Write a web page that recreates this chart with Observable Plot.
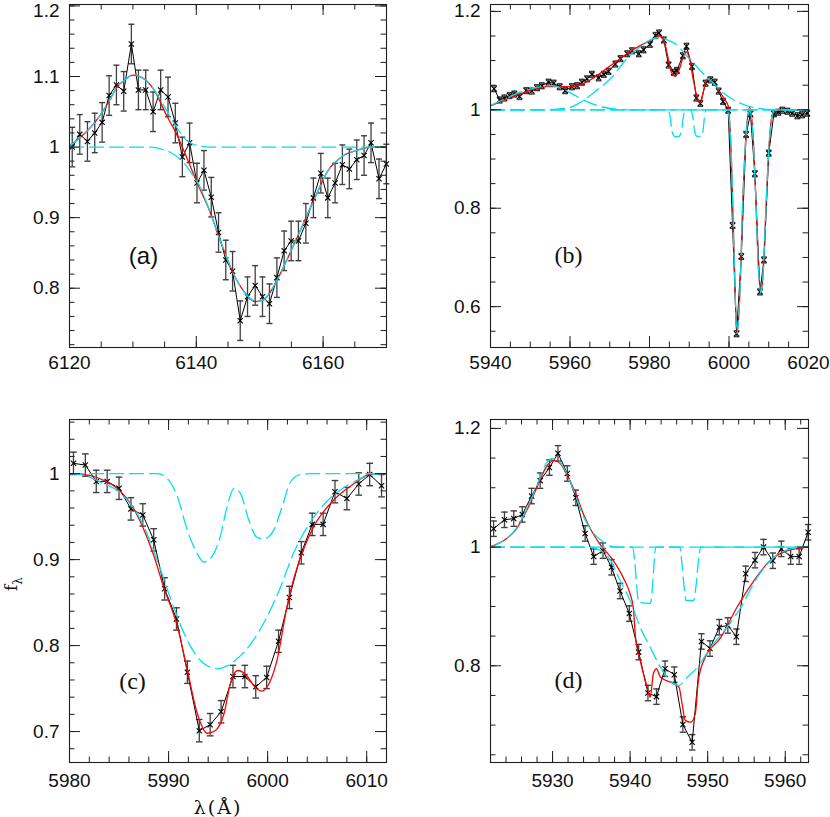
<!DOCTYPE html>
<html><head><meta charset="utf-8">
<script src="https://cdn.jsdelivr.net/npm/d3@7"></script>
<script src="https://cdn.jsdelivr.net/npm/@observablehq/plot@0.6"></script>
<style>
body{margin:0;background:#fff;}
#chart{position:relative;width:830px;height:817px;background:#fff;overflow:hidden;}
#chart svg{position:absolute;}
.lbl{position:absolute;font-family:"DejaVu Serif","Liberation Serif",serif;color:#111;white-space:nowrap;}
</style></head><body>
<div id="chart"></div>
<script>
// ---------- Panel (a) ----------
const aWave = [6120.43,6121.62,6122.83,6123.98,6125.15,6126.25,6127.40,6128.55,6129.76,6130.87,6132.02,6133.18,6134.38,6135.54,6136.69,6137.80,6138.94,6140.11,6141.21,6142.36,6143.51,6144.65,6145.72,6146.93,6148.08,6149.29,6150.44,6151.54,6152.71,6153.86,6154.96,6156.11,6157.28,6158.47,6159.64,6160.74,6161.89,6163.04,6164.14,6165.31,6166.46,6167.56,6168.82,6169.98];
const aFlux = [1.000,1.018,1.008,1.020,1.035,1.073,1.088,1.079,1.146,1.081,1.081,1.050,1.081,1.071,1.034,0.986,1.006,0.949,0.967,0.929,0.879,0.840,0.824,0.754,0.788,0.804,0.788,0.778,0.815,0.853,0.867,0.867,0.892,0.928,0.963,0.928,0.949,0.975,0.969,0.982,0.988,1.006,0.955,0.976];
const aErr = 0.028;
const aFit = [[6120,1.002],[6121.6,1.013],[6124,1.035],[6126.3,1.066],[6127.4,1.084],[6128.7,1.095],[6130,1.102],[6132,1.095],[6133.4,1.080],[6135.3,1.045],[6136.9,1.018],[6138.5,0.985],[6140,0.952],[6142,0.912],[6144,0.862],[6146,0.818],[6148,0.790],[6149.3,0.781],[6150.5,0.783],[6151.7,0.795],[6152.7,0.811],[6155.1,0.856],[6158.5,0.924],[6160.8,0.967],[6162.9,0.986],[6165.6,0.996],[6167.7,1.0],[6170,1.0]];
const aEmission = [[6120,1.002],[6121.6,1.013],[6124,1.035],[6126.3,1.066],[6127.4,1.084],[6128.7,1.095],[6130,1.102],[6132,1.095],[6133.4,1.080],[6135.3,1.052],[6136.9,1.028],[6138,1.014],[6139,1.006],[6140.3,1.002],[6142,1.0],[6170,1.0]];
const aAbsorption = [[6120,1.0],[6133,1.0],[6134.5,0.997],[6136,0.992],[6137.8,0.98],[6139,0.966],[6140.5,0.945],[6142,0.912],[6144,0.862],[6146,0.818],[6148,0.790],[6149.3,0.781],[6150.5,0.783],[6151.7,0.795],[6152.7,0.811],[6155.1,0.856],[6158.5,0.924],[6160.8,0.967],[6162.9,0.986],[6165.6,0.996],[6167.7,1.0],[6170,1.0]];
const aXTicks = [6120,6140,6160];
const aYTicks = [0.8,0.9,1,1.1,1.2];

// ---------- Panel (b) ----------
const bWave = [5940.9,5942.3,5943.5,5944.8,5946.0,5947.3,5949.0,5950.4,5951.7,5952.9,5954.6,5955.9,5957.4,5958.8,5960.5,5961.8,5963.0,5964.3,5965.5,5967.2,5968.5,5969.7,5971.4,5972.7,5974.4,5975.6,5977.3,5978.5,5980.1,5981.5,5982.4,5983.6,5984.8,5986.1,5986.9,5988.4,5989.3,5990.7,5991.8,5992.8,5994.1,5995.3,5996.4,5997.4,5998.5,5999.8,6000.9,6001.9,6003.1,6004.3,6005.4,6006.5,6007.8,6008.8,6010.0,6011.3,6012.4,6013.4,6014.7,6015.9,6017.2,6018.4,6019.7];
const bFlux = [1.043,1.020,1.024,1.029,1.032,1.027,1.039,1.038,1.045,1.049,1.056,1.054,1.047,1.039,1.047,1.049,1.056,1.063,1.072,1.065,1.072,1.078,1.093,1.104,1.114,1.120,1.114,1.122,1.133,1.151,1.156,1.142,1.091,1.076,1.080,1.110,1.129,1.088,1.024,1.013,1.054,1.061,1.056,1.038,1.017,0.999,0.765,0.545,0.702,0.950,0.992,0.870,0.630,0.695,0.912,0.992,0.995,0.999,0.997,0.993,0.988,0.990,0.993];
const bErr = 0.006;
const bFit = [[5940,1.008],[5942,1.015],[5945,1.025],[5948,1.034],[5951,1.042],[5954,1.047],[5957,1.047],[5960,1.047],[5963,1.052],[5966,1.065],[5969,1.083],[5972,1.100],[5975,1.118],[5978,1.132],[5980,1.140],[5981.5,1.147],[5982.5,1.150],[5983.6,1.142],[5984.5,1.112],[5985.5,1.077],[5986.5,1.068],[5987.5,1.082],[5988.5,1.108],[5989.2,1.118],[5990,1.106],[5991,1.062],[5992,1.025],[5992.8,1.015],[5993.7,1.042],[5994.5,1.063],[5996,1.056],[5997.5,1.038],[5999,1.020],[5999.8,1.008],[6000.6,0.90],[6001.3,0.70],[6002,0.545],[6002.7,0.62],[6003.5,0.82],[6004.3,0.95],[6005.2,1.005],[6006,0.955],[6006.7,0.83],[6007.4,0.68],[6008,0.628],[6008.6,0.67],[6009.3,0.80],[6010.1,0.93],[6010.9,0.99],[6012,1.0],[6020,1.0]];
const bEmission1 = [[5940,1.009],[5943,1.02],[5946,1.031],[5949,1.040],[5952,1.046],[5955.4,1.049],[5958,1.043],[5960,1.035],[5962,1.026],[5965,1.014],[5968,1.006],[5972,1.001],[5976,1.0],[6020,1.0]];
const bEmission2 = [[5940,1.0],[5954,1.0],[5956,1.001],[5959.6,1.004],[5962,1.012],[5964.6,1.026],[5966.8,1.04],[5968.8,1.053],[5971,1.07],[5972.6,1.087],[5975,1.110],[5978,1.130],[5980.5,1.143],[5982.5,1.147],[5984.5,1.142],[5986.5,1.134],[5989,1.113],[5991.6,1.090],[5993.7,1.072],[5995.8,1.056],[5998.3,1.036],[6001.2,1.020],[6004.2,1.009],[6008.4,1.002],[6012,1.0],[6020,1.0]];
const bNarrow = [[5940,1.0],[5984.6,1.0],[5985.2,0.985],[5985.7,0.955],[5986.3,0.946],[5987.3,0.945],[5988,0.955],[5988.5,0.985],[5988.9,1.0],[5990.4,1.0],[5990.9,0.985],[5991.4,0.955],[5992,0.946],[5993,0.946],[5993.5,0.96],[5993.9,0.99],[5994.3,1.0],[6020,1.0]];
const bDeep = [[5940,1.0],[5999.5,1.0],[6000.2,0.97],[6000.7,0.88],[6001.3,0.70],[6002,0.545],[6002.7,0.62],[6003.5,0.82],[6004.3,0.95],[6005.2,0.998],[6006,0.95],[6006.7,0.83],[6007.4,0.68],[6008,0.628],[6008.6,0.67],[6009.3,0.80],[6010.1,0.93],[6010.9,0.99],[6011.6,1.0],[6020,1.0]];
const bXTicks = [5940,5960,5980,6000,6020];
const bYTicks = [0.6,0.8,1,1.2];

// ---------- Panel (c) ----------
const cWave = [5980.4,5981.6,5982.7,5983.8,5985.0,5986.2,5987.4,5988.5,5989.6,5990.8,5991.9,5993.1,5994.2,5995.3,5996.5,5997.7,5998.8,5999.9,6001.1,6002.2,6003.4,6004.5,6005.6,6006.8,6008.0,6009.2,6010.3,6011.5];
const cFlux = [1.012,1.010,0.991,0.991,0.983,0.959,0.952,0.923,0.866,0.831,0.769,0.701,0.708,0.723,0.764,0.764,0.752,0.763,0.805,0.856,0.908,0.941,0.941,0.979,0.971,0.988,0.999,0.986];
const cErr = 0.013;
const cFit = [[5980,1.0],[5982,0.998],[5983.5,0.992],[5985,0.981],[5986.3,0.963],[5987.35,0.939],[5988.5,0.905],[5989.5,0.868],[5990.9,0.822],[5991.9,0.771],[5992.9,0.721],[5993.9,0.698],[5994.7,0.701],[5995.6,0.721],[5996.24,0.756],[5996.98,0.771],[5997.9,0.765],[5998.7,0.752],[5999.4,0.747],[6000.2,0.757],[6000.95,0.783],[6001.95,0.845],[6002.6,0.876],[6003.46,0.907],[6004.63,0.938],[6006.65,0.969],[6008.66,0.988],[6010.3,0.999],[6012,1.0]];
const cBroad = [[5980,1.0],[5981.5,0.998],[5983.15,0.990],[5985.2,0.977],[5987.2,0.946],[5989.2,0.888],[5990.5,0.845],[5991.9,0.806],[5993.2,0.783],[5994.9,0.773],[5996.75,0.783],[5998.3,0.802],[5999.6,0.826],[6001.3,0.868],[6002.6,0.907],[6004,0.938],[6005.3,0.959],[6006.65,0.975],[6008.3,0.988],[6010,0.997],[6011.7,1.0],[6012,1.0]];
const cNarrow = [[5980,1.0],[5988.9,1.0],[5989.9,0.994],[5990.9,0.973],[5991.9,0.934],[5992.9,0.907],[5993.55,0.897],[5994.2,0.901],[5995.2,0.926],[5995.9,0.961],[5996.6,0.983],[5997.25,0.977],[5998.1,0.946],[5998.9,0.926],[5999.6,0.924],[6000.6,0.934],[6001.45,0.961],[6002.3,0.990],[6003.3,0.999],[6004.5,1.0],[6012,1.0]];
const cXTicks = [5980,5990,6000,6010];
const cYTicks = [0.7,0.8,0.9,1];

// ---------- Panel (d) ----------
const dWave = [5922.4,5923.8,5925.0,5926.1,5927.3,5928.4,5929.6,5930.7,5931.9,5933.0,5934.2,5935.3,5936.5,5937.6,5938.7,5939.9,5941.1,5942.3,5943.4,5944.5,5945.7,5946.8,5948.0,5949.2,5950.3,5951.5,5952.6,5953.7,5954.9,5956.1,5957.2,5958.4,5959.5,5960.7,5961.8,5962.95];
const dFlux = [1.031,1.046,1.048,1.055,1.086,1.112,1.134,1.158,1.124,1.083,1.023,0.984,0.994,0.966,0.926,0.888,0.823,0.754,0.748,0.795,0.785,0.701,0.671,0.841,0.829,0.865,0.868,0.849,0.955,0.978,1.000,0.977,0.997,0.984,0.984,1.025];
const dErr = 0.013;
const dFit = [[5922,1.001],[5923.7,1.011],[5925.3,1.03],[5926.6,1.06],[5927.9,1.098],[5929.2,1.135],[5930.2,1.146],[5931,1.141],[5932,1.118],[5933,1.09],[5934,1.055],[5935,1.028],[5936.1,1.005],[5937.8,0.978],[5939.1,0.949],[5940.0,0.921],[5940.4,0.899],[5940.7,0.848],[5941.3,0.809],[5942.2,0.764],[5942.6,0.747],[5943.0,0.787],[5943.4,0.795],[5943.9,0.781],[5945.6,0.770],[5946.3,0.764],[5946.7,0.736],[5947.1,0.708],[5947.8,0.705],[5948.4,0.719],[5948.8,0.775],[5949.5,0.809],[5951.7,0.848],[5953.8,0.899],[5956.0,0.944],[5958.1,0.978],[5960.3,0.994],[5963,1.0]];
const dEmission = [[5922,1.0],[5923.7,1.011],[5925.3,1.031],[5926.6,1.062],[5927.9,1.101],[5929.2,1.141],[5929.9,1.149],[5930.6,1.147],[5931.4,1.135],[5932.7,1.096],[5934.0,1.051],[5935.3,1.023],[5936.6,1.008],[5937.6,1.001],[5938.5,1.0],[5963,1.0]];
const dBroad = [[5922,1.0],[5934.5,1.0],[5936.1,0.995],[5937.6,0.975],[5938.7,0.944],[5940.0,0.910],[5941.3,0.865],[5942.6,0.831],[5943.9,0.798],[5945.6,0.770],[5946.3,0.767],[5947.4,0.781],[5948.7,0.798],[5950.4,0.831],[5952.5,0.865],[5954.3,0.899],[5956.4,0.949],[5958.6,0.983],[5960.7,0.997],[5963,1.0]];
const dNarrow = [[5922,1.0],[5940.3,1.0],[5940.6,0.975],[5940.85,0.935],[5941.1,0.907],[5942.6,0.905],[5942.9,0.935],[5943.1,0.975],[5943.3,1.0],[5946.4,1.0],[5946.7,0.97],[5946.95,0.935],[5947.2,0.91],[5948.2,0.91],[5948.5,0.935],[5948.8,0.975],[5949.1,1.0],[5963,1.0]];
const dXTicks = [5930,5940,5950,5960];
const dYTicks = [0.8,1,1.2];

// ---------- drawing ----------
const RED = "#ff0000", CYAN = "#00e0ec", INK = "#1e1e1e";
const capSymbol = {draw(ctx, size) { const r = Math.sqrt(size / Math.PI); ctx.moveTo(-r, 0); ctx.lineTo(r, 0); }};
const fmt = d3.format("~g");

function makePanel(p) {
  const pw = p.width - p.ml - p.mr, ph = p.height - p.mt - p.mb;
  const pts = p.wave.map((w, i) => ({x: w, y: p.flux[i]}));
  const xy = {x: d => d[0], y: d => d[1]};
  const tickStyle = {stroke: INK, strokeWidth: 1};
  const minL = 5.5, majL = 11;
  const yTop = p.yTicks.filter(t => t === p.shiftTick);
  const yRest = p.yTicks.filter(t => t !== p.shiftTick);
  const marks = [
    Plot.ruleX(pts, {x: "x", y1: d => d.y - p.err, y2: d => d.y + p.err, stroke: "#404040", strokeWidth: 1.3, clip: true}),
    Plot.dot(pts, {x: "x", y: d => d.y + p.err, symbol: capSymbol, r: p.capR, stroke: "#404040", strokeWidth: 1.4}),
    Plot.dot(pts, {x: "x", y: d => d.y - p.err, symbol: capSymbol, r: p.capR, stroke: "#404040", strokeWidth: 1.4}),
    Plot.line(pts, {x: "x", y: "y", stroke: "#000", strokeWidth: 1, clip: true}),
    Plot.dot(pts, {x: "x", y: "y", symbol: "times", r: 2.5, stroke: "#000", strokeWidth: 1.1}),
    Plot.line(p.fit, {...xy, stroke: RED, strokeWidth: 1.3, curve: "monotone-x", clip: true}),
    ...p.comps.map(c => Plot.line(c, {...xy, stroke: CYAN, strokeWidth: 1.3, strokeDasharray: "14,6", curve: "monotone-x", clip: true})),
    // inward ticks on all four sides
    Plot.tickX(p.xMinor, {x: d => d, insetTop: ph - minL, ...tickStyle}),
    Plot.tickX(p.xMinor, {x: d => d, insetBottom: ph - minL, ...tickStyle}),
    Plot.tickX(p.xTicks, {x: d => d, insetTop: ph - majL, ...tickStyle}),
    Plot.tickX(p.xTicks, {x: d => d, insetBottom: ph - majL, ...tickStyle}),
    Plot.tickY(p.yMinor, {y: d => d, insetRight: pw - minL, ...tickStyle}),
    Plot.tickY(p.yMinor, {y: d => d, insetLeft: pw - minL, ...tickStyle}),
    Plot.tickY(p.yTicks, {y: d => d, insetRight: pw - majL, ...tickStyle}),
    Plot.tickY(p.yTicks, {y: d => d, insetLeft: pw - majL, ...tickStyle}),
    Plot.frame({stroke: INK, strokeWidth: 1.1}),
    Plot.axisX({ticks: p.xTicks, tickSize: 0, tickPadding: p.xPad, tickFormat: d3.format("d"), label: null}),
    Plot.axisY({ticks: yRest, tickSize: 0, tickPadding: 10, tickFormat: fmt, label: null}),
    ...(yTop.length ? [Plot.axisY({ticks: yTop, tickSize: 0, tickPadding: 10, tickFormat: fmt, label: null, dy: 5})] : []),
    Plot.text([p.tag], {text: d => d, frameAnchor: "top-left", dx: p.tagDx, dy: p.tagDy, textAnchor: "middle", lineAnchor: "middle", fontSize: 24, fontFamily: p.tagFont, fill: "#111"})
  ];
  const svg = Plot.plot({
    width: p.width, height: p.height,
    marginLeft: p.ml, marginRight: p.mr, marginTop: p.mt, marginBottom: p.mb,
    x: {domain: p.xDomain},
    y: {domain: p.yDomain},
    style: {fontFamily: "'Liberation Sans', Arial, sans-serif", fontSize: "19px", color: "#111", background: "transparent", overflow: "visible"},
    marks
  });
  svg.style.left = p.left + "px";
  svg.style.top = p.top + "px";
  return svg;
}

const chart = document.getElementById("chart");
const SANS = "'Liberation Sans', Arial, sans-serif", SERIF = "'Liberation Serif', 'DejaVu Serif', serif";

chart.appendChild(makePanel({
  left: 0, top: 0, width: 415, height: 380, ml: 69, mr: 29, mt: 4, mb: 33,
  xDomain: [6120, 6170], yDomain: [0.716, 1.202],
  xTicks: aXTicks, yTicks: aYTicks, shiftTick: 1.2,
  xMinor: d3.range(6125, 6170, 5), yMinor: d3.range(0.72, 1.201, 0.02),
  xPad: 8, wave: aWave, flux: aFlux, err: aErr, capR: 3,
  fit: aFit, comps: [aEmission, aAbsorption],
  tag: "(a)", tagFont: SANS, tagDx: 74, tagDy: 252
}));
chart.appendChild(makePanel({
  left: 415, top: 0, width: 415, height: 380, ml: 75, mr: 22, mt: 4, mb: 33,
  xDomain: [5940, 6020], yDomain: [0.517, 1.214],
  xTicks: bXTicks, yTicks: bYTicks,
  xMinor: d3.range(5945, 6020, 5), yMinor: d3.range(0.55, 1.201, 0.05),
  xPad: 8, wave: bWave, flux: bFlux, err: bErr, capR: 2.8,
  fit: bFit, comps: [bEmission1, bEmission2, bNarrow, bDeep],
  tag: "(b)", tagFont: SERIF, tagDx: 78, tagDy: 251
}));
chart.appendChild(makePanel({
  left: 0, top: 400, width: 415, height: 417, ml: 69, mr: 29, mt: 19, mb: 55,
  xDomain: [5980, 6012], yDomain: [0.664, 1.063],
  xTicks: cXTicks, yTicks: cYTicks,
  xMinor: d3.range(5982, 6012, 2), yMinor: d3.range(0.68, 1.061, 0.02),
  xPad: 11, wave: cWave, flux: cFlux, err: cErr, capR: 3.3,
  fit: cFit, comps: [cBroad, cNarrow],
  tag: "(c)", tagFont: SERIF, tagDx: 63, tagDy: 262
}));
chart.appendChild(makePanel({
  left: 415, top: 400, width: 415, height: 417, ml: 75, mr: 22, mt: 19, mb: 55,
  xDomain: [5922, 5963], yDomain: [0.637, 1.215],
  xTicks: dXTicks, yTicks: dYTicks,
  xMinor: d3.range(5924, 5963, 2), yMinor: d3.range(0.65, 1.201, 0.05),
  xPad: 11, wave: dWave, flux: dFlux, err: dErr, capR: 3.2,
  fit: dFit, comps: [dEmission, dBroad, dNarrow],
  tag: "(d)", tagFont: SERIF, tagDx: 78, tagDy: 261
}));

// axis titles
const yl = document.createElement("div");
yl.className = "lbl";
yl.style.cssText = "left:13px;top:584px;font-size:17px;transform:translate(-50%,-50%) rotate(-90deg);";
yl.innerHTML = "f<sub style='font-size:12px'>λ</sub>";
chart.appendChild(yl);
const xl = document.createElement("div");
xl.className = "lbl";
xl.style.cssText = "left:218px;top:807px;font-size:19px;letter-spacing:2px;transform:translate(-50%,-50%);";
xl.textContent = "λ(Å)";
chart.appendChild(xl);
</script>
</body></html>
